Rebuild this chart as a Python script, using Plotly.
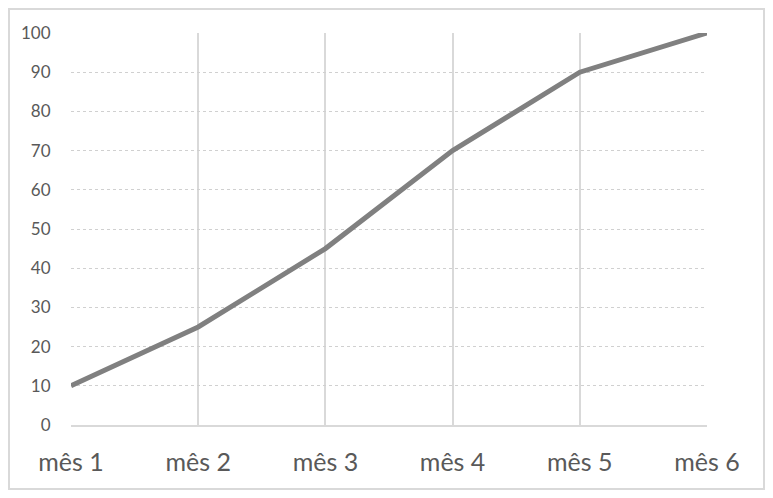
import plotly.graph_objects as go

meses = ["mês 1", "mês 2", "mês 3", "mês 4", "mês 5", "mês 6"]
valores = [10, 25, 45, 70, 90, 100]
y_ticks = list(range(0, 101, 10))

# page body has an 8px margin, so the figure is a bit smaller than the window
W, H = 757, 482
L, T = 63, 25
PW, PH = 636, 392
R, B = W - L - PW, H - T - PH

fig = go.Figure()
fig.add_trace(go.Scatter(
    x=list(range(len(meses))),
    y=valores,
    mode="lines",
    line=dict(color="#808080", width=5),
    hoverinfo="x+y",
))

# chart border like the Excel chart area (along the figure edges)
fig.add_shape(
    type="rect", xref="paper", yref="paper",
    x0=(1 - L) / PW, x1=(W - L - 1) / PW,
    y0=(1 - B) / PH, y1=(H - B - 1) / PH,
    line=dict(color="#d9d9d9", width=2),
)

fig.update_layout(
    width=W, height=H,
    margin=dict(l=L, r=R, t=T, b=B),
    paper_bgcolor="white",
    plot_bgcolor="white",
    showlegend=False,
    font=dict(family="Lato, Open Sans, sans-serif", color="#595959"),
)
fig.update_xaxes(
    range=[0, len(meses) - 1],
    tickmode="array",
    tickvals=list(range(len(meses))),
    ticktext=meses,
    tickfont=dict(size=25, color="#595959"),
    showgrid=True, gridcolor="#d9d9d9", gridwidth=1.5,
    showline=True, linecolor="#d9d9d9", linewidth=1.5,
    ticks="outside", ticklen=14, tickcolor="rgba(0,0,0,0)",
    zeroline=False, fixedrange=True,
)
fig.update_yaxes(
    range=[0, 100],
    tickmode="array",
    tickvals=y_ticks,
    tickfont=dict(size=17, color="#595959"),
    showgrid=True, gridcolor="#d0d0d0", gridwidth=1, griddash="dot",
    showline=False, zeroline=False,
    ticks="outside", ticklen=16, tickcolor="rgba(0,0,0,0)",
    fixedrange=True,
)

fig.write_html("out.html")
